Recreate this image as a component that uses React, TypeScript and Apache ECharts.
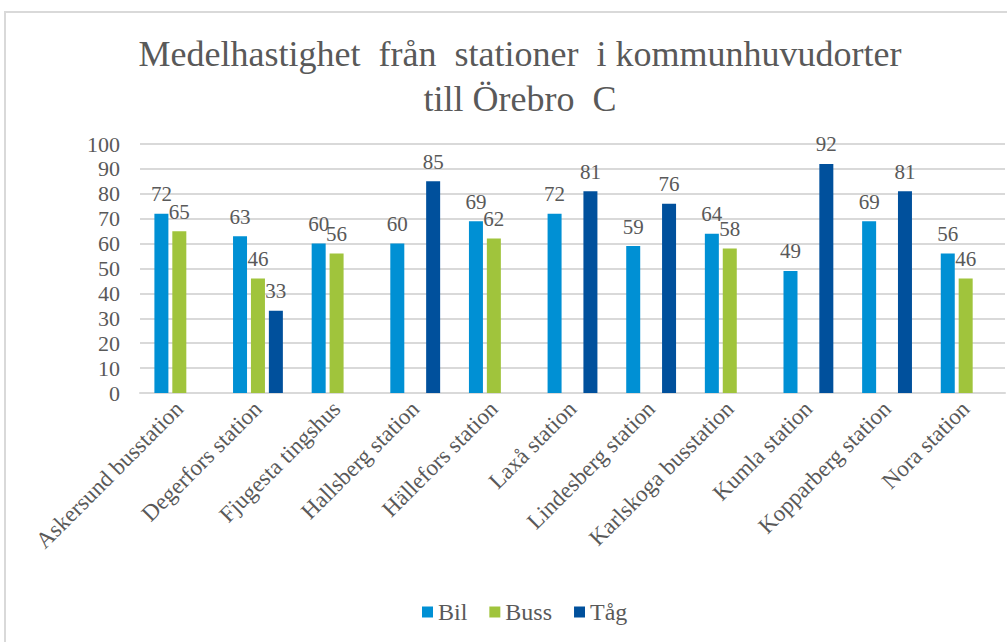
import React, { useEffect, useRef } from "react";
import * as echarts from "echarts";

const categories = [
  "Askersund busstation",
  "Degerfors station",
  "Fjugesta tingshus",
  "Hallsberg station",
  "Hällefors station",
  "Laxå station",
  "Lindesberg station",
  "Karlskoga busstation",
  "Kumla station",
  "Kopparberg station",
  "Nora station",
];
const bil = [72, 63, 60, 60, 69, 72, 59, 64, 49, 69, 56];
const buss = [65, 46, 56, null, 62, null, null, 58, null, null, 46];
const tag = [null, 33, null, 85, null, 81, 76, null, 92, 81, null];
const yTicks = [0, 10, 20, 30, 40, 50, 60, 70, 80, 90, 100];

const FONT = "'Liberation Serif', 'Times New Roman', serif";
const GREY = "#595959";

export default function App() {
  const ref = useRef<HTMLDivElement>(null);
  useEffect(() => {
    if (!ref.current) return;
    const chart = echarts.init(ref.current, undefined, { renderer: "svg" });
    const label = {
      show: true,
      position: "top" as const,
      distance: 9,
      color: GREY,
      fontFamily: FONT,
      fontSize: 21,
    };
    chart.setOption({
      animation: false,
      backgroundColor: "#ffffff",
      graphic: [
        {
          type: "rect",
          shape: { x: 5, y: 12, width: 1100, height: 700 },
          style: { fill: "none", stroke: "#d9d9d9", lineWidth: 2 },
          silent: true,
          z: -10,
        },
      ],
      title: {
        text: "Medelhastighet  från  stationer  i kommunhuvudorter\ntill Örebro  C",
        left: 515,
        textAlign: "center",
        top: 26,
        textStyle: {
          fontFamily: FONT,
          fontSize: 36,
          fontWeight: "normal",
          color: GREY,
          lineHeight: 45,
        },
      },
      legend: {
        bottom: 13,
        left: 417,
        icon: "rect",
        itemWidth: 11,
        itemHeight: 11,
        itemGap: 22,
        textStyle: { fontFamily: FONT, fontSize: 24, color: GREY },
        data: ["Bil", "Buss", "Tåg"],
      },
      grid: { left: 140, right: 2, top: 144, bottom: 249, containLabel: false },
      xAxis: {
        type: "category",
        data: categories,
        axisTick: { show: false },
        axisLine: { lineStyle: { color: "#d9d9d9", width: 2 } },
        axisLabel: {
          rotate: 45,
          interval: 0,
          margin: 12,
          color: GREY,
          fontFamily: FONT,
          fontSize: 23,
        },
      },
      yAxis: {
        type: "value",
        min: yTicks[0],
        max: yTicks[yTicks.length - 1],
        interval: 10,
        axisLine: { show: false },
        axisTick: { show: false },
        splitLine: { lineStyle: { color: "#d9d9d9", width: 2 } },
        axisLabel: {
          margin: 20,
          color: GREY,
          fontFamily: FONT,
          fontSize: 22,
        },
      },
      series: [
        {
          name: "Bil",
          type: "bar",
          data: bil,
          barWidth: 14,
          barGap: "28%",
          itemStyle: { color: "#0090d4" },
          label,
        },
        {
          name: "Buss",
          type: "bar",
          data: buss,
          barWidth: 14,
          barGap: "28%",
          itemStyle: { color: "#a0c43c" },
          label,
        },
        {
          name: "Tåg",
          type: "bar",
          data: tag,
          barWidth: 14,
          barGap: "28%",
          itemStyle: { color: "#00509c" },
          label,
        },
      ],
    });
    return () => chart.dispose();
  }, []);
  return (
    <div
      ref={ref}
      style={{ position: "fixed", left: 0, top: 0, width: 1007, height: 642 }}
    />
  );
}
